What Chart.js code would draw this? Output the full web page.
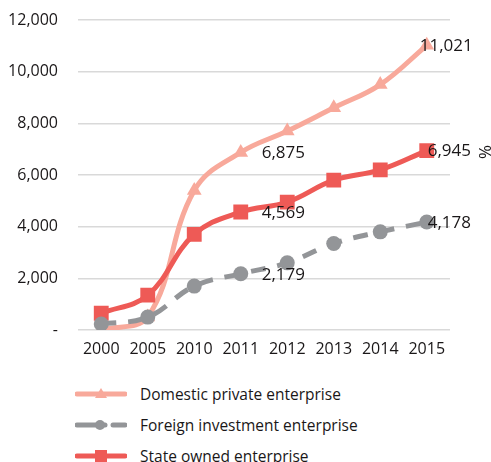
<!DOCTYPE html>
<html>
<head>
<meta charset="utf-8">
<script src="https://cdn.jsdelivr.net/npm/chart.js@4.4.1/dist/chart.umd.min.js"></script>
<style>
	body { margin: 0; background: #fff; font-family: "Open Sans", sans-serif; color: #1a1718; }
	#wrap { position: relative; width: 491px; height: 462px; overflow: hidden; }
	#legend { position: absolute; left: 75px; top: 378px; }
	.item { height: 31px; display: flex; align-items: center; font-size: 15.5px; white-space: nowrap; }
	.item svg { width: 52px; height: 16px; margin-right: 13px; flex: none; }
</style>
</head>
<body>
<div id="wrap">
	<canvas id="chart" width="491" height="362"></canvas>
	<div id="legend"></div>
</div>
<script>
const years = ['2000', '2005', '2010', '2011', '2012', '2013', '2014', '2015'];
const domesticPrivate = [0, 500, 5400, 6875, 7700, 8600, 9500, 11021];
const foreignInvestment = [230, 500, 1700, 2179, 2600, 3350, 3800, 4178];
const stateOwned = [650, 1350, 3700, 4569, 4950, 5800, 6200, 6945];
const yTicks = [0, 2000, 4000, 6000, 8000, 10000, 12000];
const seriesNames = ['Domestic private enterprise', 'Foreign investment enterprise', 'State owned enterprise'];

// which points get a number next to them: [dataset, index, x offset]
const labelled = [
	[0, 3, 21], [0, 7, -7],
	[1, 3, 21], [1, 7, 1],
	[2, 3, 21], [2, 7, 1]
];

const PINK = '#f8a99b';
const GREY = '#939598';
const RED = '#ee5a56';
const INK = '#1a1718';

const fmt = v => v === 0 ? '-' : v.toLocaleString('en-US');

// draws value labels and the rotated % on the right
const extras = {
	id: 'extras',
	afterDraw(chart) {
		const ctx = chart.ctx;
		ctx.save();
		ctx.fillStyle = INK;
		ctx.font = '17px "Open Sans"';
		ctx.textAlign = 'left';
		ctx.textBaseline = 'middle';
		labelled.forEach(([ds, i, dx]) => {
			const pt = chart.getDatasetMeta(ds).data[i];
			const v = chart.data.datasets[ds].data[i];
			ctx.fillText(fmt(v), pt.x + dx, pt.y + 1);
		});
		ctx.translate(484, 152);
		ctx.rotate(Math.PI / 2);
		ctx.textAlign = 'center';
		ctx.fillText('%', 0, 0);
		ctx.restore();
	}
};

const chart = new Chart(document.getElementById('chart'), {
	type: 'line',
	data: {
		labels: years,
		datasets: [{
			label: seriesNames[0],
			data: domesticPrivate,
			borderColor: PINK,
			backgroundColor: PINK,
			borderWidth: 5,
			tension: 0.4,
			pointStyle: 'triangle',
			pointRadius: 8.5,
			pointBorderWidth: 0,
			order: 2
		}, {
			label: seriesNames[1],
			data: foreignInvestment,
			borderColor: GREY,
			backgroundColor: GREY,
			borderWidth: 5,
			borderDash: [15, 12],
			tension: 0.4,
			pointStyle: 'circle',
			pointRadius: 7.5,
			pointBorderWidth: 0,
			order: 0
		}, {
			label: seriesNames[2],
			data: stateOwned,
			borderColor: RED,
			backgroundColor: RED,
			borderWidth: 5,
			tension: 0.4,
			pointStyle: 'rect',
			pointRadius: 10.5,
			pointBorderWidth: 0,
			order: 1
		}]
	},
	options: {
		responsive: false,
		animation: false,
		layout: { padding: { top: 20, right: 41, left: 0, bottom: 0 } },
		plugins: {
			legend: { display: false },
			tooltip: { enabled: false }
		},
		scales: {
			x: {
				offset: true,
				grid: { display: false, drawTicks: false },
				border: { display: false },
				ticks: { color: INK, font: { family: 'Open Sans', size: 16 }, padding: 10, maxRotation: 0 },
				afterFit: s => { s.height = 32; }
			},
			y: {
				min: 0,
				max: 12000,
				afterBuildTicks: s => { s.ticks = yTicks.map(v => ({ value: v })); },
				grid: { color: '#d9d9d9', lineWidth: 1.5, drawTicks: false },
				border: { display: false },
				ticks: { color: INK, font: { family: 'Open Sans', size: 16 }, padding: 20, callback: v => fmt(v) },
				// tick padding also pads the top, undo that
				afterFit: s => { s.width = 78; s.paddingTop = 10; s.paddingBottom = 10; }
			}
		}
	},
	plugins: [extras]
});

// html legend with line + marker samples
const legend = document.getElementById('legend');
const samples = [
	'<line x1="2" y1="8" x2="50" y2="8" stroke="' + PINK + '" stroke-width="5" stroke-linecap="round"/><polygon points="26,2 32,12 20,12" fill="' + PINK + '"/>',
	'<line x1="2" y1="8" x2="30" y2="8" stroke="' + GREY + '" stroke-width="5" stroke-linecap="round"/><line x1="38" y1="8" x2="50" y2="8" stroke="' + GREY + '" stroke-width="5" stroke-linecap="round"/><circle cx="25" cy="8" r="5" fill="' + GREY + '"/>',
	'<line x1="2" y1="8" x2="50" y2="8" stroke="' + RED + '" stroke-width="5" stroke-linecap="round"/><rect x="20" y="2" width="12" height="12" fill="' + RED + '"/>'
];
chart.data.datasets.forEach((d, i) => {
	const row = document.createElement('div');
	row.className = 'item';
	row.innerHTML = '<svg viewBox="0 0 52 16">' + samples[i] + '</svg><span>' + d.label + '</span>';
	legend.appendChild(row);
});
</script>
</body>
</html>
